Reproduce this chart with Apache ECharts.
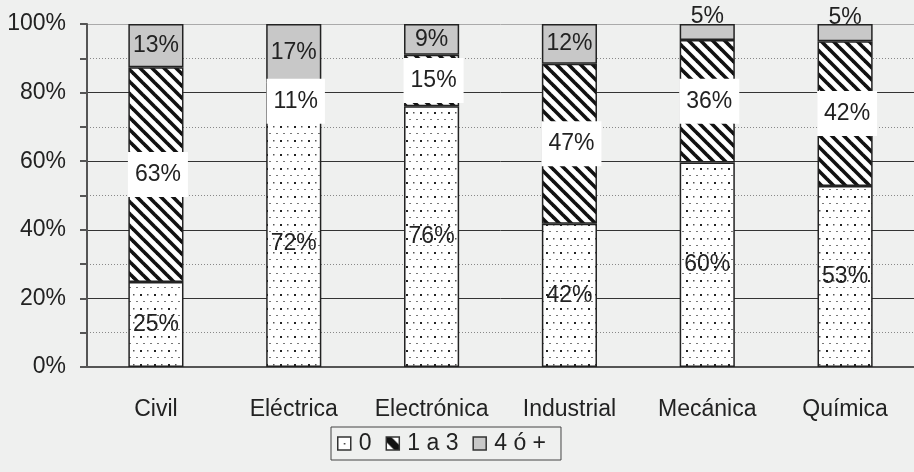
<!DOCTYPE html>
<html><head><meta charset="utf-8">
<script src="https://cdn.jsdelivr.net/npm/echarts@6/dist/echarts.min.js"></script>
<style>html,body{margin:0;padding:0;background:#eff0ef;}#c{width:914px;height:472px;}</style>
</head><body><div id="c"></div>
<script>
const categories = ['Civil','Eléctrica','Electrónica','Industrial','Mecánica','Química'];
const seriesNames = ['0','1 a 3','4 ó +'];
const valsZero = [24.8, 72, 76, 41.8, 59.6, 52.8];
const valsOneToThree = [62.6, 11, 15, 46.6, 35.7, 42.2];
const valsFourPlus = [12.6, 17, 9, 11.6, 4.7, 5];
const yTicks = [0, 20, 40, 60, 80, 100];

function dotPattern(){
  const c = document.createElement('canvas'); c.width = 14; c.height = 14;
  const g = c.getContext('2d');
  g.fillStyle = '#fff'; g.fillRect(0,0,14,14);
  g.fillStyle = '#222'; g.fillRect(0,0,2,2);
  g.fillStyle = '#555'; g.fillRect(7,0,1.5,1.5);
  g.fillStyle = '#777'; g.fillRect(3,7,2,1); g.fillRect(10,7,2,1);
  return {image: c, repeat: 'repeat'};
}
function hatchPattern(){
  const P = 12;
  const c = document.createElement('canvas'); c.width = P; c.height = P;
  const g = c.getContext('2d');
  g.fillStyle = '#fff'; g.fillRect(0,0,P,P);
  g.strokeStyle = '#111'; g.lineWidth = 3.6;
  for (const o of [-P, 0, P]) { g.beginPath(); g.moveTo(o - 2, -2); g.lineTo(o + P + 2, P + 2); g.stroke(); }
  return {image: c, repeat: 'repeat'};
}
function legendHatch(){
  const c = document.createElement('canvas'); c.width = 13; c.height = 13;
  const g = c.getContext('2d');
  g.fillStyle = '#fff'; g.fillRect(0,0,13,13);
  g.fillStyle = '#111';
  g.beginPath(); g.moveTo(0,0); g.lineTo(5,0); g.lineTo(13,8); g.lineTo(13,13); g.lineTo(8,13); g.lineTo(0,5); g.closePath(); g.fill();
  return {image: c, repeat: 'repeat'};
}
function legendDot(){
  const c = document.createElement('canvas'); c.width = 13; c.height = 13;
  const g = c.getContext('2d');
  g.fillStyle = '#fff'; g.fillRect(0,0,13,13);
  g.fillStyle = '#333'; g.fillRect(6,6,1.5,1.5);
  return {image: c, repeat: 'repeat'};
}
const fills = [dotPattern(), hatchPattern(), '#c8c8c8'];
const legendFills = [legendDot(), legendHatch(), '#c8c8c8'];
const dataSets = [valsZero, valsOneToThree, valsFourPlus];
const FONT = 'Liberation Sans, Arial, sans-serif';

const series = dataSets.map((arr, i) => ({
  name: seriesNames[i],
  type: 'bar',
  stack: 'total',
  barWidth: '40%',
  itemStyle: {color: fills[i], borderColor: '#222', borderWidth: 1.5},
  label: {
    show: true, position: 'inside', color: '#222', fontSize: 23, fontFamily: FONT,
    formatter: p => Math.round(p.value) + '%',
    backgroundColor: i === 1 ? '#fff' : 'transparent',
    padding: i === 1 ? [11, 7] : 0,
    offset: i === 1 ? [2, 0] : [0, 0]
  },
  data: arr.map(v => (i === 2 && v < 6) ? {value: v, label: {offset: [0, -15]}} : v)
}));

const chart = echarts.init(document.getElementById('c'));
chart.setOption({
  backgroundColor: '#eff0ef',
  animation: false,
  grid: {left: 87, right: 0, top: 24, bottom: 105},
  legend: {
    bottom: 12, left: 331,
    data: seriesNames.map((n, i) => ({name: n, icon: 'rect', itemStyle: {color: legendFills[i], borderColor: '#333', borderWidth: 1.5}})),
    itemWidth: 13, itemHeight: 13, itemGap: 14,
    borderColor: '#444', borderWidth: 1,
    padding: [5, 15, 5, 6],
    textStyle: {fontSize: 23, color: '#222', fontFamily: FONT, padding: [0, 0, 0, 3]}
  },
  xAxis: {
    type: 'category', data: categories,
    axisLine: {lineStyle: {color: '#555', width: 2}},
    axisTick: {show: false},
    axisLabel: {interval: 0, fontSize: 23, color: '#222', fontFamily: FONT, margin: 31}
  },
  yAxis: {
    type: 'value', min: yTicks[0], max: yTicks[yTicks.length - 1], interval: 20,
    axisLine: {show: true, lineStyle: {color: '#555', width: 2}},
    axisTick: {show: true, length: 7, lineStyle: {color: '#555', width: 2}},
    minorTick: {show: true, splitNumber: 2, length: 7, lineStyle: {color: '#555', width: 2}},
    axisLabel: {fontSize: 23, color: '#222', fontFamily: FONT, margin: 21, formatter: '{value}%'},
    splitLine: {show: true, lineStyle: {color: ['#333', '#333', '#333', '#333', '#333', '#aaa'], width: 1}},
    minorSplitLine: {show: true, lineStyle: {color: '#888', type: [1, 2], width: 1}}
  },
  series: series
});
</script></body></html>
